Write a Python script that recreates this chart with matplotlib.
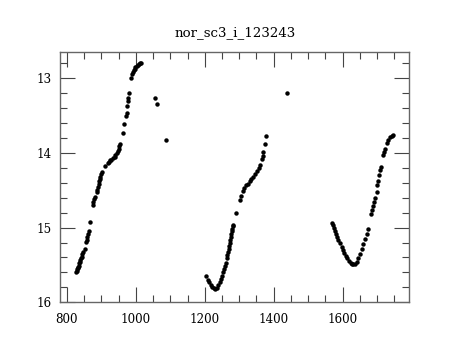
import matplotlib
matplotlib.use("Agg")
import matplotlib.pyplot as plt
from matplotlib.ticker import MultipleLocator

title = "nor_sc3_i_123243"

# segment 1 (rising branch)
x1 = [827, 828, 830, 831, 833, 834, 836, 838, 839, 841, 843, 845, 847, 852, 855, 857, 859, 861, 863,
      866, 875, 877, 879, 881, 886, 888, 890, 892, 894, 896, 897, 899, 901, 911, 920, 923, 926, 929,
      933, 939, 941, 945, 947, 950, 952, 954, 964, 967, 972, 973, 974, 976, 977, 979, 986, 988, 991,
      994, 997, 999, 1002, 1005, 1008, 1011, 1014]
y1 = [15.60, 15.58, 15.56, 15.54, 15.53, 15.51, 15.48, 15.46, 15.43, 15.41, 15.39, 15.35, 15.33, 15.28,
      15.19, 15.16, 15.13, 15.08, 15.04, 14.92, 14.70, 14.66, 14.62, 14.59, 14.52, 14.49, 14.45, 14.41,
      14.37, 14.35, 14.32, 14.28, 14.25, 14.18, 14.13, 14.12, 14.10, 14.09, 14.06, 14.05, 14.03, 14.00,
      13.97, 13.94, 13.91, 13.88, 13.73, 13.61, 13.51, 13.47, 13.37, 13.30, 13.26, 13.20, 13.00, 12.94,
      12.91, 12.89, 12.87, 12.85, 12.84, 12.82, 12.81, 12.80, 12.79]

# isolated points
x_iso = [1056, 1061, 1087, 1439]
y_iso = [13.26, 13.345, 13.83, 13.19]

# segment 2
x2 = [1203, 1208, 1212, 1217, 1221, 1226, 1230, 1235, 1239, 1243, 1246, 1250, 1253, 1256, 1259, 1262,
      1264, 1266, 1268, 1269, 1270, 1272, 1273, 1275, 1276, 1278, 1279, 1281, 1282, 1292, 1301, 1306,
      1310, 1315, 1321, 1326, 1330, 1335, 1340, 1346, 1352, 1357, 1361, 1365, 1368, 1370, 1376, 1379]
y2 = [15.65, 15.70, 15.73, 15.77, 15.79, 15.81, 15.82, 15.81, 15.77, 15.73, 15.69, 15.65, 15.60, 15.55,
      15.52, 15.47, 15.41, 15.37, 15.33, 15.29, 15.24, 15.20, 15.17, 15.13, 15.09, 15.05, 15.02, 14.98,
      14.96, 14.80, 14.63, 14.57, 14.51, 14.47, 14.43, 14.41, 14.38, 14.35, 14.32, 14.28, 14.24, 14.20,
      14.16, 14.08, 14.04, 13.99, 13.88, 13.77]

# segment 3
x3 = [1570, 1573, 1576, 1579, 1582, 1585, 1588, 1592, 1597, 1601, 1605, 1610, 1614, 1618, 1623, 1627,
      1631, 1636, 1641, 1645, 1650, 1655, 1660, 1665, 1670, 1674, 1682, 1686, 1689, 1692, 1694, 1699,
      1701, 1703, 1706, 1709, 1711, 1718, 1721, 1723, 1728, 1732, 1737, 1742, 1747]
y3 = [14.94, 14.97, 15.00, 15.04, 15.08, 15.12, 15.16, 15.21, 15.26, 15.30, 15.34, 15.38, 15.41, 15.45,
      15.47, 15.49, 15.49, 15.49, 15.46, 15.41, 15.35, 15.28, 15.22, 15.15, 15.08, 15.02, 14.82, 14.76,
      14.71, 14.65, 14.60, 14.52, 14.43, 14.37, 14.30, 14.23, 14.19, 14.03, 13.98, 13.94, 13.87, 13.83,
      13.79, 13.77, 13.76]

plt.rcParams['font.family'] = ['DejaVu Serif']

fig = plt.figure(figsize=(4.6, 3.4), dpi=100)
ax = fig.add_axes([0.1304, 0.111, 0.7598, 0.7352])

for xs, ys in [(x1, y1), (x_iso, y_iso), (x2, y2), (x3, y3)]:
    ax.plot(xs, ys, linestyle='none', marker='o', markersize=3.2, color='black', markeredgewidth=0)

ax.set_xlim(780, 1794)
ax.set_ylim(16, 12.65)

ax.xaxis.set_major_locator(MultipleLocator(200))
ax.xaxis.set_minor_locator(MultipleLocator(50))
ax.yaxis.set_major_locator(MultipleLocator(1))
ax.yaxis.set_minor_locator(MultipleLocator(0.2))

ax.tick_params(which='both', direction='in', top=True, right=True, color='#444444', width=0.8)
ax.tick_params(which='major', length=10.8, labelsize=8.6)
ax.tick_params(which='minor', length=5)
ax.tick_params(axis='x', which='major', pad=8)
ax.tick_params(axis='y', which='major', pad=6)

for s in ax.spines.values():
    s.set_color('#666666')
    s.set_linewidth(1.0)

ax.set_title(title, fontsize=9.6, pad=12)

fig.savefig('out.png', dpi=100)
